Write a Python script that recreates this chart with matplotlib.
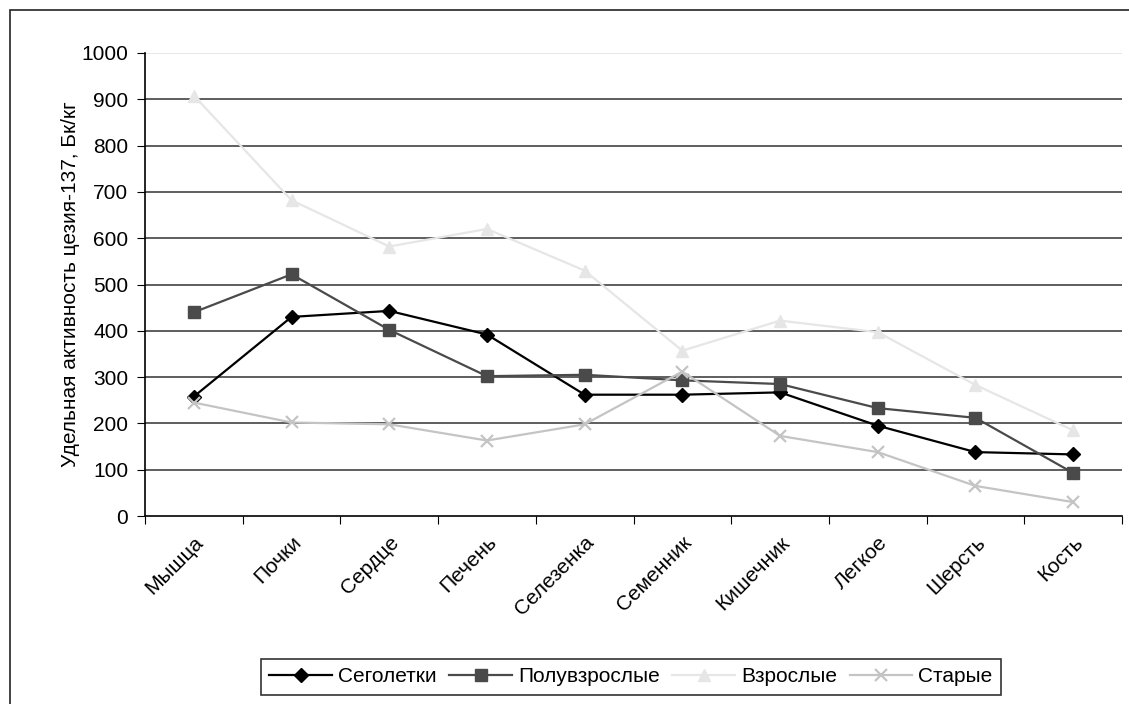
import numpy as np
import matplotlib.pyplot as plt
from matplotlib.patches import Rectangle

plt.rcParams['font.family'] = ['Liberation Sans', 'DejaVu Sans']

organs = ['Мышца', 'Почки', 'Сердце', 'Печень', 'Селезенка', 'Семенник',
          'Кишечник', 'Легкое', 'Шерсть', 'Кость']
segoletki = [258, 430, 443, 392, 262, 262, 267, 195, 138, 133]
poluvzr = [440, 522, 402, 302, 305, 293, 285, 233, 212, 93]
vzroslye = [908, 682, 582, 620, 530, 357, 422, 397, 283, 185]
starye = [245, 202, 198, 163, 198, 312, 173, 138, 65, 30]

fig = plt.figure(figsize=(11.29, 7.04), dpi=100)
ax = fig.add_axes([145/1129, 1-516/704, (1122-145)/1129, (516-53)/704])

# outer chart border (Excel style)
fig.patches.append(Rectangle((10/1129, -0.1), 1.2, 1 - 10/704 + 0.1, transform=fig.transFigure,
                             fill=False, edgecolor='#222222', linewidth=1.2))

x = np.arange(len(organs))
ax.plot(x, segoletki, color='black', lw=1.6, marker='D', ms=7, label='Сеголетки')
ax.plot(x, poluvzr, color='#4a4a4a', lw=1.6, marker='s', ms=8, label='Полувзрослые')
ax.plot(x, vzroslye, color='#e6e6e6', lw=1.6, marker='^', ms=9, label='Взрослые')
ax.plot(x, starye, color='#c4c4c4', lw=1.6, marker='x', ms=9, mew=1.6, label='Старые')

ax.set_xlim(-0.5, len(organs) - 0.5)
ax.set_ylim(0, 1000)
ax.set_yticks(range(0, 1001, 100))
for v in range(100, 1000, 100):
    ax.axhline(v, color='#333333', lw=1.1, zorder=0)
ax.axhline(1000, color='#e0e0e0', lw=1.1, zorder=0)

ax.set_xticks(np.arange(-0.5, len(organs), 1))
ax.set_xticklabels([])
ax.set_xticks(x, minor=True)
ax.set_xticklabels(organs, minor=True, rotation=45, ha='right', va='top',
                   rotation_mode='anchor', fontsize=15)
ax.tick_params(axis='x', which='minor', length=0, pad=12)
ax.tick_params(axis='x', which='major', length=6, direction='out')
ax.tick_params(axis='y', length=6, labelsize=15, pad=6)

for s in ['top', 'right']:
    ax.spines[s].set_visible(False)
ax.spines['left'].set_linewidth(1.2)
ax.spines['bottom'].set_linewidth(1.2)

ax.set_ylabel('Удельная активность цезия-137, Бк/кг', fontsize=15, labelpad=1)

leg = fig.legend(loc='center', bbox_to_anchor=(631/1129, 1-677/704), ncol=4, fontsize=15,
                 frameon=True, fancybox=False, edgecolor='black', handlelength=3,
                 columnspacing=0.6, handletextpad=0.3, borderpad=0.4)
leg.get_frame().set_linewidth(1.2)

fig.savefig('out.png', dpi=100)
